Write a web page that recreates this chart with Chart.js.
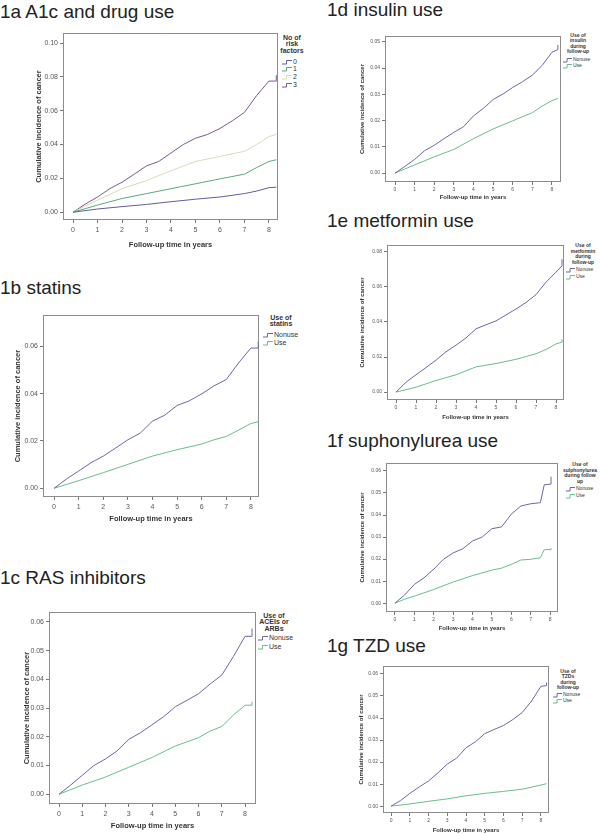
<!DOCTYPE html>
<html>
<head>
<meta charset="utf-8">
<script src="https://cdn.jsdelivr.net/npm/chart.js@4.4.1/dist/chart.umd.min.js"></script>
<style>
  body { margin: 0; background: #fff; width: 600px; height: 834px; position: relative; overflow: hidden;
         font-family: "Liberation Sans", Arial, sans-serif; }
  .ptitle { position: absolute; font-size: 19px; line-height: 19px; color: #222; white-space: nowrap; }
  .panel { position: absolute; }
  .leg { position: absolute; color: #333; white-space: nowrap; }
  .leg .hd { position: absolute; font-weight: bold; text-align: center; transform-origin: 50% 0; transform: translateX(-50%) scale(0.5); }
  .leg .it { position: absolute; transform-origin: 0 0; transform: scale(0.5); }
  .leg svg { position: absolute; }
</style>
</head>
<body>
<script>
// ---- data ----
const xTicks = [0, 1, 2, 3, 4, 5, 6, 7, 8];
const halfYears = [0, 0.5, 1, 1.5, 2, 2.5, 3, 3.5, 4, 4.5, 5, 5.5, 6, 6.5, 7, 7.5, 8, 8.3, 8.3];

// 1a A1c and drug use (no of risk factors)
const a1cTicks = [0, 0.02, 0.04, 0.06, 0.08, 0.10];
const a1cTimesLow = [0, 1, 2, 3, 4, 5, 6, 7, 7.5, 8, 8.3];
const a1cRisk0 = [0, 0.0019, 0.0033, 0.0046, 0.0062, 0.0077, 0.009, 0.011, 0.0125, 0.0145, 0.0148];
const a1cRisk1 = [0, 0.0042, 0.0081, 0.011, 0.0139, 0.0168, 0.0197, 0.0225, 0.0264, 0.030, 0.031];
const a1cRisk2 = [0, 0.0071, 0.0139, 0.0187, 0.0245, 0.030, 0.033, 0.036, 0.040, 0.0447, 0.046];
const a1cRisk3 = [0, 0.0048, 0.009, 0.0139, 0.0177, 0.0225, 0.0274, 0.030, 0.035, 0.040, 0.0437, 0.046, 0.0495, 0.054, 0.059, 0.069, 0.0775, 0.0775, 0.081];

// 1b statins
const statinTicks = [0, 0.02, 0.04, 0.06];
const statinNonuse = [0, 0.0039, 0.0073, 0.0108, 0.0136, 0.017, 0.0205, 0.0233, 0.0284, 0.0309, 0.035, 0.037, 0.0399, 0.0433, 0.046, 0.053, 0.0593, 0.0593, 0.062];
const statinUseTimes = [0, 1, 2, 3, 4, 5, 6, 6.5, 7, 7.5, 8, 8.3, 8.3];
const statinUse = [0, 0.0032, 0.0066, 0.0101, 0.0136, 0.0163, 0.0187, 0.0205, 0.0219, 0.0246, 0.0274, 0.0281, 0.029];

// 1c RAS inhibitors
const rasTicks = [0, 0.01, 0.02, 0.03, 0.04, 0.05, 0.06];
const rasNonuse = [0, 0.0032, 0.0066, 0.010, 0.0123, 0.0151, 0.0191, 0.0214, 0.0242, 0.027, 0.0305, 0.0327, 0.035, 0.0384, 0.0415, 0.048, 0.055, 0.055, 0.0577];
const rasUseTimes = [0, 1, 2, 3, 4, 5, 6, 6.5, 7, 7.5, 8, 8.3, 8.3];
const rasUse = [0, 0.0032, 0.006, 0.0094, 0.0128, 0.0168, 0.0197, 0.022, 0.0236, 0.0276, 0.031, 0.031, 0.0322];

// 1d insulin
const insulinTicks = [0, 0.01, 0.02, 0.03, 0.04, 0.05];
const insulinNonuse = [0, 0.0025, 0.0052, 0.0085, 0.0106, 0.0131, 0.0155, 0.0177, 0.0218, 0.0246, 0.028, 0.0301, 0.0326, 0.0348, 0.0373, 0.041, 0.046, 0.047, 0.0488];
const insulinUseTimes = [0, 1, 2, 3, 4, 5, 6, 7, 7.5, 8, 8.3];
const insulinUse = [0, 0.0031, 0.0062, 0.009, 0.0131, 0.0168, 0.0199, 0.023, 0.0255, 0.0276, 0.0284];

// 1e metformin
const metforminTicks = [0, 0.02, 0.04, 0.06, 0.08];
const metforminNonuse = [0, 0.0056, 0.0099, 0.014, 0.0182, 0.023, 0.0268, 0.0309, 0.0361, 0.0384, 0.0406, 0.044, 0.0474, 0.0511, 0.0556, 0.0627, 0.0684, 0.072, 0.0758];
const metforminUseTimes = [0, 1, 2, 3, 4, 5, 6, 7, 7.5, 8, 8.3, 8.3];
const metforminUse = [0, 0.0028, 0.0066, 0.0099, 0.0144, 0.0163, 0.0187, 0.0219, 0.0243, 0.0275, 0.0285, 0.030];

// 1f sulphonylurea
const suTicks = [0, 0.01, 0.02, 0.03, 0.04, 0.05, 0.06];
const suNonuseTimes = [0, 0.5, 1, 1.5, 2, 2.5, 3, 3.5, 4, 4.5, 5, 5.5, 6, 6.5, 7, 7.5, 7.7, 8, 8.05, 8.05];
const suNonuse = [0, 0.0037, 0.0085, 0.0115, 0.0154, 0.0199, 0.0228, 0.0247, 0.0282, 0.030, 0.0338, 0.0346, 0.0404, 0.0441, 0.0451, 0.0456, 0.0537, 0.054, 0.054, 0.0574];
const suUseTimes = [0, 0.5, 1, 2, 3, 4, 5, 5.5, 6, 6.5, 7, 7.5, 7.7, 8.05, 8.05];
const suUse = [0, 0.0018, 0.0032, 0.0062, 0.0096, 0.0125, 0.015, 0.0159, 0.0176, 0.0196, 0.0199, 0.0206, 0.0243, 0.0243, 0.025];

// 1g TZD
const tzdTicks = [0, 0.01, 0.02, 0.03, 0.04, 0.05, 0.06];
const tzdNonuse = [0, 0.0025, 0.0058, 0.0087, 0.0114, 0.0151, 0.0191, 0.0218, 0.0265, 0.0292, 0.0329, 0.0348, 0.0366, 0.0393, 0.0425, 0.0477, 0.0544, 0.0547, 0.0561];
const tzdUseTimes = [0, 1, 2, 3, 4, 5, 6, 7, 8, 8.3];
const tzdUse = [0, 0.001, 0.0022, 0.0033, 0.0047, 0.0058, 0.0067, 0.0077, 0.0096, 0.0102];

// ---- colours ----
const cNonuse = '#6c67a4';
const cUse = '#69bd8a';
const cRisk = ['#5d5e9e', '#5aa97c', '#d8dbb4', '#7a5a87'];

const panels = [
  { title: '1a A1c and drug use', tx: 0, ty: 2, box: [63, 29, 278, 220], xr: [-0.41, 8.37], yr: [-0.0046, 0.1058],
    yTicks: a1cTicks, yTitleX: 38, xTitleY: 244, big: true,
    series: [[a1cTimesLow, a1cRisk0, cRisk[0]], [a1cTimesLow, a1cRisk1, cRisk[1]], [a1cTimesLow, a1cRisk2, cRisk[2]], [halfYears, a1cRisk3, cRisk[3]]],
    legend: { cx: 292, head: ['No of', 'risk', 'factors'], hy: 37, hgap: 6.5, ix: 282, items: [['0', cRisk[0], 62], ['1', cRisk[1], 69], ['2', cRisk[2], 77], ['3', cRisk[3], 85]] } },
  { title: '1b statins', tx: 0, ty: 278, box: [43, 311, 259, 497], xr: [-0.45, 8.33], yr: [-0.0037, 0.0732],
    yTicks: statinTicks, yTitleX: 17, xTitleY: 518, big: true,
    series: [[halfYears, statinNonuse, cNonuse], [statinUseTimes, statinUse, cUse]],
    legend: { cx: 281, head: ['Use of', 'statins'], hy: 317, hgap: 6.5, ix: 263, items: [['Nonuse', cNonuse, 335], ['Use', cUse, 343]] } },
  { title: '1c RAS inhibitors', tx: 0, ty: 568, box: [49, 608, 256, 804], xr: [-0.43, 8.47], yr: [-0.0034, 0.0634],
    yTicks: rasTicks, yTitleX: 26, xTitleY: 825, big: true,
    series: [[halfYears, rasNonuse, cNonuse], [rasUseTimes, rasUse, cUse]],
    legend: { cx: 274, head: ['Use of', 'ACEIs or', 'ARBs'], hy: 615, hgap: 6.5, ix: 258, items: [['Nonuse', cNonuse, 638], ['Use', cUse, 647]] } },
  { title: '1d insulin use', tx: 327, ty: 0, box: [385, 33, 561, 182], xr: [-0.51, 8.46], yr: [-0.0034, 0.0522],
    yTicks: insulinTicks, yTitleX: 363, xTitleY: 197, big: false,
    series: [[halfYears, insulinNonuse, cNonuse], [insulinUseTimes, insulinUse, cUse]],
    legend: { cx: 578, head: ['Use of', 'insulin', 'during', 'follow-up'], hy: 35, hgap: 5.3, ix: 563, items: [['Nonuse', cNonuse, 60], ['Use', cUse, 66]] } },
  { title: '1e metformin use', tx: 327, ty: 211, box: [387, 242, 564, 400], xr: [-0.45, 8.4], yr: [-0.0045, 0.0839],
    yTicks: metforminTicks, yTitleX: 363, xTitleY: 417, big: false,
    series: [[halfYears, metforminNonuse, cNonuse], [metforminUseTimes, metforminUse, cUse]],
    legend: { cx: 583, head: ['Use of', 'metformin', 'during', 'follow-up'], hy: 245, hgap: 5.5, ix: 566, items: [['Nonuse', cNonuse, 270], ['Use', cUse, 277]] } },
  { title: '1f suphonylurea use', tx: 327, ty: 431, box: [386, 460, 558, 612], xr: [-0.46, 8.41], yr: [-0.004, 0.0636],
    yTicks: suTicks, yTitleX: 363, xTitleY: 628, big: false,
    series: [[suNonuseTimes, suNonuse, cNonuse], [suUseTimes, suUse, cUse]],
    legend: { cx: 580, head: ['Use of', 'sulphonylurea', 'during follow', 'up'], hy: 464, hgap: 5.6, ix: 566, items: [['Nonuse', cNonuse, 489], ['Use', cUse, 496]] } },
  { title: '1g TZD use', tx: 327, ty: 636, box: [383, 663, 549, 813], xr: [-0.43, 8.43], yr: [-0.0031, 0.0636],
    yTicks: tzdTicks, yTitleX: 362, xTitleY: 830, big: false,
    series: [[halfYears, tzdNonuse, cNonuse], [tzdUseTimes, tzdUse, cUse]],
    legend: { cx: 568, head: ['Use of', 'TZDs', 'during', 'follow-up'], hy: 671, hgap: 5.4, ix: 553, items: [['Nonuse', cNonuse, 694.5], ['Use', cUse, 701]] } }
];

const frame = {
  id: 'frame',
  beforeDatasetsDraw(chart) {
    const a = chart.chartArea, ctx = chart.ctx;
    ctx.save();
    ctx.strokeStyle = '#8c8c8c';
    ctx.lineWidth = 1;
    ctx.strokeRect(Math.round(a.left) + 0.5, Math.round(a.top) + 0.5, Math.round(a.right - a.left) - 1, Math.round(a.bottom - a.top) - 1);
    ctx.restore();
  }
};

panels.forEach(p => {
  const t = document.createElement('div');
  t.className = 'ptitle';
  t.style.left = p.tx + 'px';
  t.style.top = p.ty + 'px';
  t.textContent = p.title;
  document.body.appendChild(t);

  const [l, top, r, b] = p.box;
  const tickSize = p.big ? 7 : 5;
  const titleSize = p.big ? 7.5 : 6;
  const lh = titleSize * 1.2;
  const cLeft = Math.round(p.yTitleX - lh / 2);
  const yW = l - cLeft;
  const xH = Math.round(p.xTitleY + lh / 2 - b);
  const cTop = top - 2;
  const w = r + 2 - cLeft;
  const h = b + xH - cTop;

  const div = document.createElement('div');
  div.className = 'panel';
  div.style.left = cLeft + 'px';
  div.style.top = cTop + 'px';
  const canvas = document.createElement('canvas');
  canvas.width = w; canvas.height = h;
  canvas.style.width = w + 'px'; canvas.style.height = h + 'px';
  div.appendChild(canvas);
  document.body.appendChild(div);

  const axisFont = { family: '"Liberation Sans", Arial, sans-serif', size: tickSize };
  const titleFont = { family: '"Liberation Sans", Arial, sans-serif', size: titleSize, weight: 'bold' };

  new Chart(canvas, {
    type: 'line',
    data: {
      datasets: p.series.map(s => ({
        data: s[0].map((x, i) => ({ x: x, y: s[1][i] })),
        borderColor: s[2],
        borderWidth: 1,
        pointRadius: 0,
        tension: 0,
        fill: false
      }))
    },
    options: {
      responsive: false,
      animation: false,
      devicePixelRatio: 1,
      layout: { padding: { top: 2, right: 2, left: 0, bottom: 0 } },
      plugins: { legend: { display: false }, tooltip: { enabled: false } },
      scales: {
        x: {
          type: 'linear', min: p.xr[0], max: p.xr[1],
          afterBuildTicks: sc => { sc.ticks = xTicks.map(v => ({ value: v })); },
          afterFit: sc => { sc.height = xH; },
          ticks: { font: axisFont, color: '#555', padding: p.big ? 3 : 2, maxRotation: 0, autoSkip: false, callback: v => String(v) },
          grid: { drawOnChartArea: false, drawTicks: true, tickLength: 3, color: '#777' },
          border: { display: false },
          title: { display: true, text: 'Follow-up time in years', font: titleFont, color: '#333', padding: 0 }
        },
        y: {
          type: 'linear', min: p.yr[0], max: p.yr[1],
          afterBuildTicks: sc => { sc.ticks = p.yTicks.map(v => ({ value: v })); },
          afterFit: sc => { sc.width = yW; },
          ticks: { font: axisFont, color: '#555', padding: 2, autoSkip: false, callback: v => v.toFixed(2) },
          grid: { drawOnChartArea: false, drawTicks: true, tickLength: 3, color: '#777' },
          border: { display: false },
          title: { display: true, text: 'Cumulative incidence of cancer', font: titleFont, color: '#333', padding: 0 }
        }
      }
    },
    plugins: [frame]
  });

  // legend (SPSS style, right of the box); text drawn at 2x and scaled down
  const lg = p.legend;
  const fs = p.big ? 7 : 5;
  const leg = document.createElement('div');
  leg.className = 'leg';
  leg.style.left = '0px'; leg.style.top = '0px';
  lg.head.forEach((txt, i) => {
    const d = document.createElement('div');
    d.className = 'hd';
    d.style.left = lg.cx + 'px';
    d.style.top = (lg.hy + i * lg.hgap - fs * 0.6) + 'px';
    d.style.fontSize = (fs * 2) + 'px';
    d.style.lineHeight = (fs * 2.4) + 'px';
    d.textContent = txt;
    leg.appendChild(d);
  });
  lg.items.forEach(it => {
    const iw = p.big ? 10 : 9;
    const svg = document.createElementNS('http://www.w3.org/2000/svg', 'svg');
    svg.setAttribute('width', iw); svg.setAttribute('height', 6);
    svg.style.left = lg.ix + 'px';
    svg.style.top = (it[2] - 3) + 'px';
    const path = document.createElementNS('http://www.w3.org/2000/svg', 'path');
    path.setAttribute('d', 'M0 5 H' + (iw * 0.45) + ' V1.5 H' + iw);
    path.setAttribute('stroke', it[1]);
    path.setAttribute('fill', 'none');
    path.setAttribute('stroke-width', '1');
    svg.appendChild(path);
    leg.appendChild(svg);
    const d = document.createElement('div');
    d.className = 'it';
    d.style.left = (lg.ix + iw + 1) + 'px';
    d.style.top = (it[2] - fs * 0.6 - 1) + 'px';
    d.style.fontSize = (fs * 2) + 'px';
    d.style.lineHeight = (fs * 2.4) + 'px';
    d.textContent = it[0];
    leg.appendChild(d);
  });
  document.body.appendChild(leg);
});
</script>
</body>
</html>
